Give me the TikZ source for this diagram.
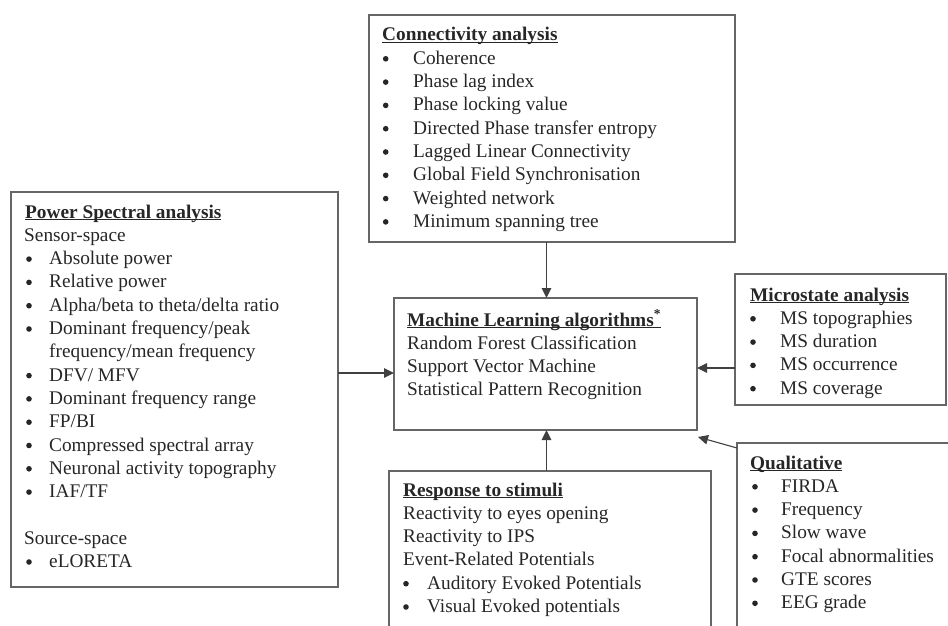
\documentclass[tikz,border=0pt]{standalone}
\usepackage{fontspec}
\setmainfont{Liberation Serif}
\usetikzlibrary{arrows.meta}
\newcommand\ulhead[1]{\setbox0\hbox{\bfseries #1}\rlap{\rule[-2.4pt]{\wd0}{1.1pt}}\box0}
\newcommand\bulletline[5]{\node[dot] (#1-b) at ({#2+3},{#4-5.5}) {}; \node[txt] (#1) at (#3,#4) {#5};}
\definecolor{boxgray}{HTML}{666666}
\begin{document}
\begin{tikzpicture}[x=1pt,y=-1pt,
  box/.style={draw=boxgray, line width=1.1pt, inner sep=0pt, outer sep=0pt, anchor=north west},
  txt/.style={inner sep=0pt, anchor=base west, font=\fontsize{19.3}{23.3}\selectfont, text=black!85},
  dot/.style={circle, fill=black!85, inner sep=0pt, minimum size=5.6pt},
  arr/.style={draw=black!75, line width=1.1pt, -{Triangle[length=10pt,width=9.5pt]}}
]
\useasboundingbox (0,0) rectangle (948,626);
\clip (0,0) rectangle (948,626);

% Connectivity analysis
\node[box, minimum width=366pt, minimum height=227pt] (conn) at (369,15) {};
\node[txt] (conn-h) at (382,41) {\ulhead{Connectivity analysis}};
\foreach \t [count=\i] in {Coherence,Phase lag index,Phase locking value,Directed Phase transfer entropy,Lagged Linear Connectivity,Global Field Synchronisation,Weighted network,Minimum spanning tree}{
  \node[dot] (conn-b\i) at (385.7,{41+23.3*\i-5.5}) {};
  \node[txt] (conn-\i) at (413,{41+23.3*\i}) {\t};
}

% Power spectral analysis
\node[box, minimum width=327pt, minimum height=395pt] (pow) at (11,192) {};
\node[txt] (pow-h) at (25,218) {\ulhead{Power Spectral analysis}};
\node[txt] (pow-s) at (24,241.3) {Sensor-space};
\bulletline{pow2}{26}{49}{264.6}{Absolute power}
\bulletline{pow3}{26}{49}{287.9}{Relative power}
\bulletline{pow4}{26}{49}{311.2}{Alpha/beta to theta/delta ratio}
\bulletline{pow5}{26}{49}{334.5}{Dominant frequency/peak}
\node[txt] (pow6) at (49,357.8) {frequency/mean frequency};
\bulletline{pow7}{26}{49}{381.1}{DFV/ MFV}
\bulletline{pow8}{26}{49}{404.4}{Dominant frequency range}
\bulletline{pow9}{26}{49}{427.7}{FP/BI}
\bulletline{pow10}{26}{49}{451}{Compressed spectral array}
\bulletline{pow11}{26}{49}{474.3}{Neuronal activity topography}
\bulletline{pow12}{26}{49}{497.6}{IAF/TF}
\node[txt] (pow-src) at (24,544.2) {Source-space};
\bulletline{pow15}{26}{49}{567.5}{eLORETA}

% Machine learning
\node[box, minimum width=303pt, minimum height=132pt] (ml) at (394,298) {};
\node[txt] (ml-h) at (407,326) {\ulhead{Machine Learning algorithms\textsuperscript{*}}};
\node[txt] (ml-1) at (407,349.3) {Random Forest Classification};
\node[txt] (ml-2) at (407,372.6) {Support Vector Machine};
\node[txt] (ml-3) at (407,395.9) {Statistical Pattern Recognition};

% Microstate
\node[box, minimum width=211pt, minimum height=131pt] (ms) at (735,274) {};
\node[txt] (ms-h) at (750,301) {\ulhead{Microstate analysis}};
\bulletline{ms1}{750}{780}{324.3}{MS topographies}
\bulletline{ms2}{750}{780}{347.6}{MS duration}
\bulletline{ms3}{750}{780}{370.9}{MS occurrence}
\bulletline{ms4}{750}{780}{394.2}{MS coverage}

% Response to stimuli
\node[box, minimum width=322pt, minimum height=200pt] (resp) at (389,471) {};
\node[txt] (resp-h) at (403,496) {\ulhead{Response to stimuli}};
\node[txt] (resp-1) at (403,519.3) {Reactivity to eyes opening};
\node[txt] (resp-2) at (403,542.6) {Reactivity to IPS};
\node[txt] (resp-3) at (403,565.9) {Event-Related Potentials};
\bulletline{resp4}{403}{427}{589.2}{Auditory Evoked Potentials}
\bulletline{resp5}{403}{427}{612.5}{Visual Evoked potentials}

% Qualitative
\node[box, minimum width=250pt, minimum height=250pt] (qual) at (737,443) {};
\node[txt] (qual-h) at (750,469) {\ulhead{Qualitative}};
\bulletline{q1}{752}{781}{492.3}{FIRDA}
\bulletline{q2}{752}{781}{515.6}{Frequency}
\bulletline{q3}{752}{781}{538.9}{Slow wave}
\bulletline{q4}{752}{781}{562.2}{Focal abnormalities}
\bulletline{q5}{752}{781}{585.5}{GTE scores}
\bulletline{q6}{752}{781}{608.8}{EEG grade}

% Connectors
\draw[arr] ([xshift=1pt]ml.north |- conn.south) -- ([xshift=1pt]ml.north);
\draw[arr] ([yshift=-9pt]ml.west -| pow.east) -- ([yshift=-9pt]ml.west);
\draw[arr] ([yshift=-4pt]ml.east -| ms.west) -- ([yshift=-4pt]ml.east);
\draw[arr] ([xshift=1pt]ml.south |- resp.north) -- ([xshift=1pt]ml.south);
\draw[arr] ([yshift=-5pt]qual.north west) -- ([xshift=1pt,yshift=-7pt]ml.south east);
\end{tikzpicture}
\end{document}
